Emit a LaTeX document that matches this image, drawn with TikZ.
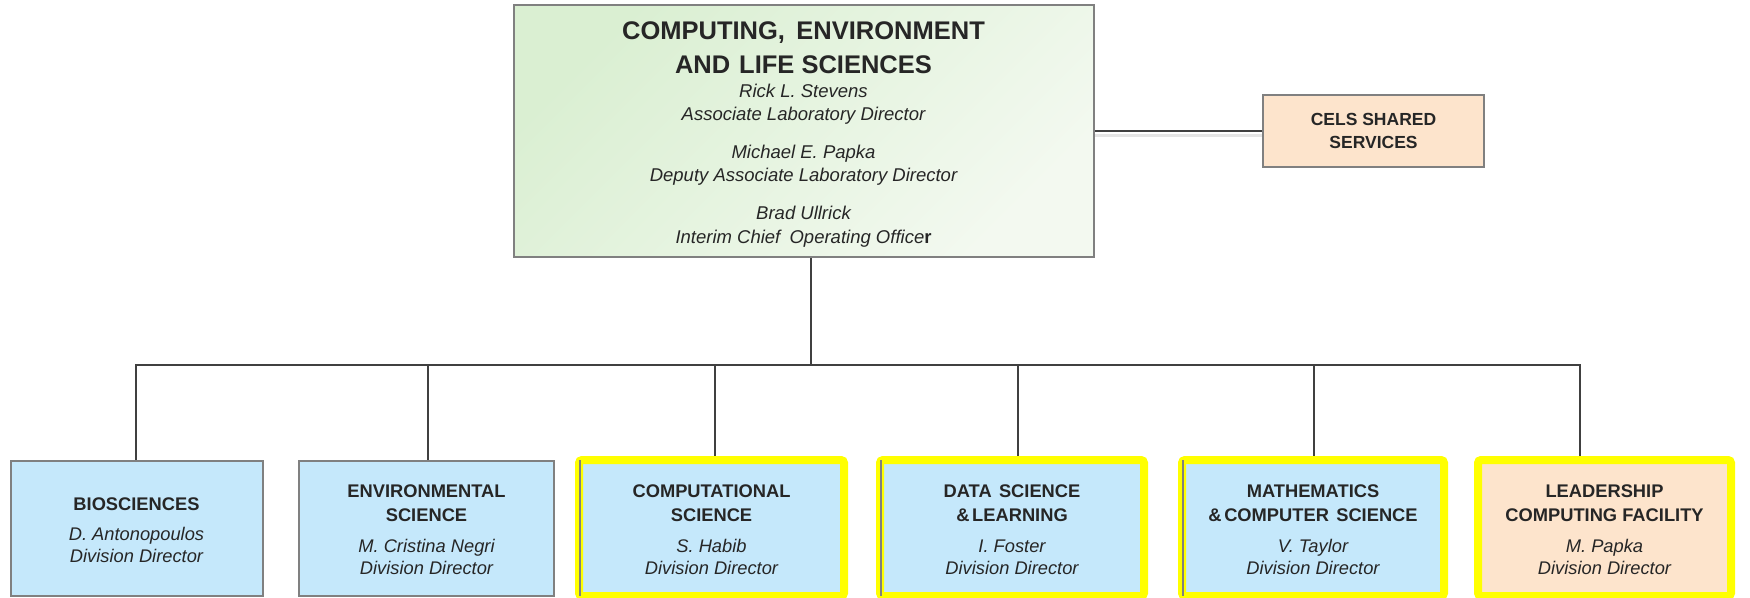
\documentclass[tikz,border=0pt]{standalone}
\usepackage{fontspec}
\setmainfont{Liberation Sans}
\definecolor{linec}{RGB}{64,64,64}
\definecolor{edge}{RGB}{128,128,128}
\definecolor{txt}{RGB}{38,38,38}
\definecolor{divblue}{RGB}{197,232,251}
\definecolor{peach}{RGB}{253,228,204}
\definecolor{greenA}{RGB}{218,239,210}
\definecolor{greenB}{RGB}{243,249,240}
\definecolor{hilite}{RGB}{255,255,0}
\pgfdeclarelayer{canvas}
\pgfdeclarelayer{bg}
\pgfsetlayers{canvas,bg,main}
\tikzset{
  conn/.style={draw=linec, line width=2pt, line join=miter},
  plainbox/.style={draw=edge, line width=2pt, fill=divblue, inner sep=0, minimum height=135.5pt},
  markbox/.style={draw=hilite, line width=8pt, rounded corners=3pt, inner sep=0, minimum height=136pt},
  innerleft/.style={draw=edge, line width=2pt},
  head/.style={font=\fontsize{18.3}{22}\selectfont\bfseries, text=txt, anchor=base, inner sep=0},
  who/.style={font=\fontsize{18.3}{22}\selectfont\itshape, text=txt, anchor=base, inner sep=0},
  bighead/.style={font=\fontsize{25.5}{30}\selectfont\bfseries, text=txt, anchor=base, inner sep=0},
  topwho/.style={font=\fontsize{18.5}{22}\selectfont\itshape, text=txt, anchor=base, inner sep=0},
  cshead/.style={font=\fontsize{17.5}{21}\selectfont\bfseries, text=txt, anchor=base, inner sep=0},
}
\begin{document}
\begin{tikzpicture}[x=1pt, y=-1pt]
\begin{pgfonlayer}{canvas}
  \fill[white] (0,0) rectangle (1750,597);
\end{pgfonlayer}
\useasboundingbox (0,0) rectangle (1750,597);

% directorate box
\node[draw=edge, line width=2pt, top color=greenA, bottom color=greenB, shading angle=45,
      minimum width=580pt, minimum height=252pt, inner sep=0] (top) at (803.5,130.5) {};
\node[bighead] (top-1) at (803.5,39.5) {COMPUTING,\hspace{0.45em}ENVIRONMENT};
\node[bighead] (top-2) at (803.5,73) {AND\hspace{0.35em}LIFE SCIENCES};
\node[topwho] (top-3) at (803.5,97.5) {Rick L. Stevens};
\node[topwho] (top-4) at (803.5,120) {Associate Laboratory Director};
\node[topwho] (top-5) at (803.5,158.5) {Michael E. Papka};
\node[topwho] (top-6) at (803.5,181) {Deputy Associate Laboratory Director};
\node[topwho] (top-7) at (803.5,219.5) {Brad Ullrick};
\node[topwho] (top-8) at (803.5,243.5) {Interim Chief\hspace{0.5em}Operating Office{\upshape\bfseries r}};

% shared services
\node[draw=edge, line width=2pt, fill=peach, minimum width=221pt, minimum height=72pt, inner sep=0] (cels) at (1373.5,131) {};
\node[cshead] (cels-1) at (1373.5,125.5) {CELS SHARED};
\node[cshead] (cels-2) at (1373.5,148) {SERVICES};

% divisions
\node[plainbox, minimum width=252pt] (bio) at (136.5,528.25) {};
\node[plainbox, minimum width=255pt] (env) at (426.5,528.25) {};
\node[markbox, fill=divblue, minimum width=265pt] (comp) at (711.5,528) {};
\node[markbox, fill=divblue, minimum width=264pt] (data) at (1012,528) {};
\node[markbox, fill=divblue, minimum width=262pt] (math) at (1313,528) {};
\node[markbox, fill=peach, minimum width=253pt] (lcf) at (1604.5,528) {};

\draw[innerleft] ([shift={(5pt,-4pt)}]comp.north west) -- ([shift={(5pt,4pt)}]comp.south west);
\draw[innerleft] ([shift={(5pt,-4pt)}]data.north west) -- ([shift={(5pt,4pt)}]data.south west);
\draw[innerleft] ([shift={(5pt,-4pt)}]math.north west) -- ([shift={(5pt,4pt)}]math.south west);

\node[head] (bio-1) at (136.5,510) {BIOSCIENCES};
\node[who]  (bio-2) at (136.5,540) {D. Antonopoulos};
\node[who]  (bio-3) at (136.5,562) {Division Director};

\node[head] (env-1) at (426.5,497) {ENVIRONMENTAL};
\node[head] (env-2) at (426.5,521) {SCIENCE};
\node[who]  (env-3) at (426.5,552) {M. Cristina Negri};
\node[who]  (env-4) at (426.5,574) {Division Director};

\node[head] (comp-1) at (711.5,497) {COMPUTATIONAL};
\node[head] (comp-2) at (711.5,521) {SCIENCE};
\node[who]  (comp-3) at (711.5,552) {S. Habib};
\node[who]  (comp-4) at (711.5,574) {Division Director};

\node[head] (data-1) at (1012,497) {DATA\hspace{0.4em}SCIENCE};
\node[head] (data-2) at (1012,521) {\&\hspace{0.15em}LEARNING};
\node[who]  (data-3) at (1012,552) {I. Foster};
\node[who]  (data-4) at (1012,574) {Division Director};

\node[head] (math-1) at (1313,497) {MATHEMATICS};
\node[head] (math-2) at (1313,521) {\&\hspace{0.15em}COMPUTER\hspace{0.4em}SCIENCE};
\node[who]  (math-3) at (1313,552) {V. Taylor};
\node[who]  (math-4) at (1313,574) {Division Director};

\node[head] (lcf-1) at (1604.5,497) {LEADERSHIP};
\node[head] (lcf-2) at (1604.5,521) {COMPUTING FACILITY};
\node[who]  (lcf-3) at (1604.5,552) {M. Papka};
\node[who]  (lcf-4) at (1604.5,574) {Division Director};

% reporting lines
\coordinate (hub)   at (811,365);
\coordinate (dBio)  at (136,365);
\coordinate (dEnv)  at (428,365);
\coordinate (dComp) at (715,365);
\coordinate (dData) at (1018,365);
\coordinate (dMath) at (1313.5,365);
\coordinate (dLcf)  at (1580,365);

\begin{pgfonlayer}{bg}
  \draw[line width=3pt, black, opacity=0.10] ([yshift=-4pt]cels.west -| top.east) -- ([yshift=-4pt]cels.west);
  \draw[conn] (cels.west -| top.east) -- (cels.west);
  \draw[conn] (top.south -| hub) -- (hub);
  \draw[conn] (bio.north -| dBio) -- (dBio) -- (dLcf) -- (lcf.north -| dLcf);
  \draw[conn] (dEnv) -- (env.north -| dEnv);
  \draw[conn] (dComp) -- (comp.north -| dComp);
  \draw[conn] (dData) -- (data.north -| dData);
  \draw[conn] (dMath) -- (math.north -| dMath);
\end{pgfonlayer}
\end{tikzpicture}
\end{document}
